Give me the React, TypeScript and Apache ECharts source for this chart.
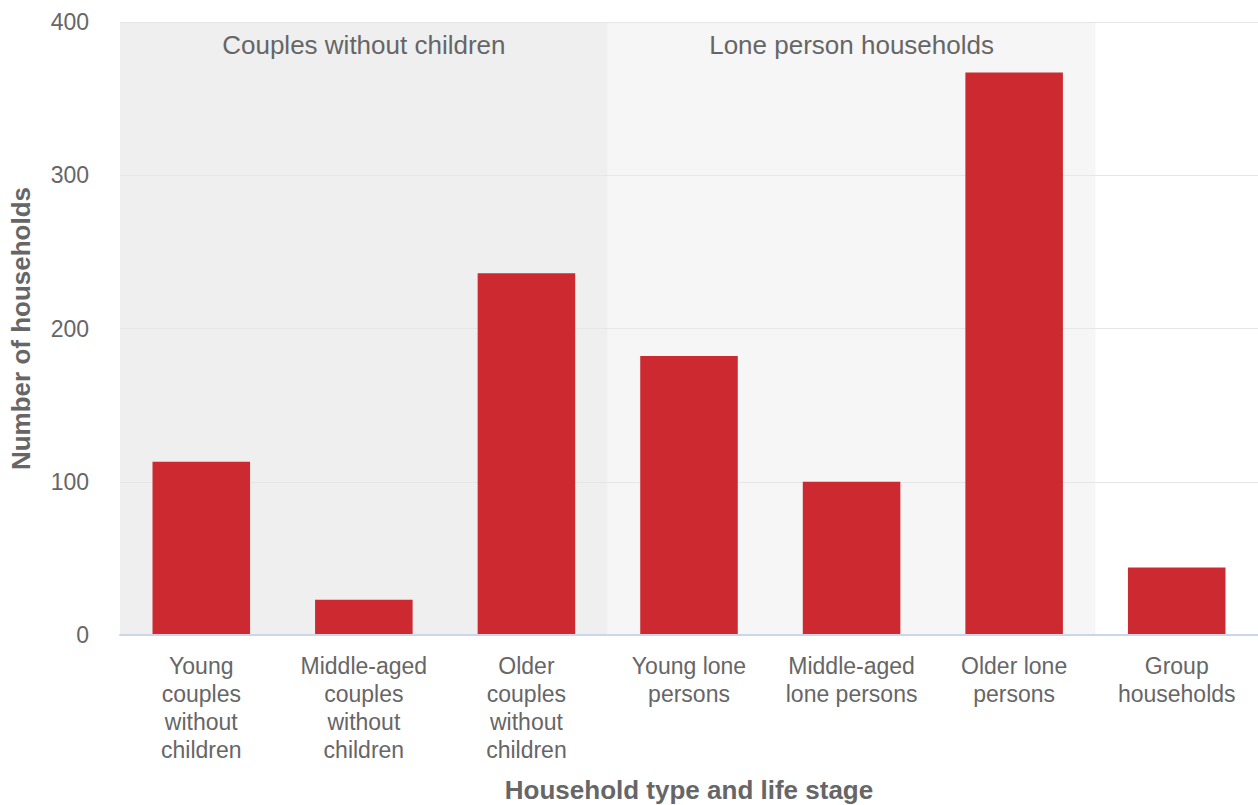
import React, { useEffect, useRef } from "react";
import * as echarts from "echarts";

const categories = [
  "Young\ncouples\nwithout\nchildren",
  "Middle-aged\ncouples\nwithout\nchildren",
  "Older\ncouples\nwithout\nchildren",
  "Young lone\npersons",
  "Middle-aged\nlone persons",
  "Older lone\npersons",
  "Group\nhouseholds",
];
const values = [113, 23, 236, 182, 100, 367, 44];
const bandNames = ["Couples without children", "Lone person households"];
const bandStarts = [0, 3];
const bandEnds = [3, 6];
const bandColors = ["#efefef", "#f6f6f6"];
const yTicks = { min: 0, max: 400, interval: 100 };

const FONT = "'Liberation Sans', Arial, Helvetica, sans-serif";

export default function App() {
  const ref = useRef<HTMLDivElement>(null);
  useEffect(() => {
    if (!ref.current) return;
    const chart = echarts.init(ref.current, undefined, { renderer: "svg" });
    chart.setOption({
      animation: false,
      textStyle: { fontFamily: FONT },
      grid: { left: 120, right: 0, top: 22, bottom: 170, containLabel: false, outerBoundsMode: "none" },
      xAxis: [
        {
          type: "category",
          data: categories,
          name: "Household type and life stage",
          nameLocation: "middle",
          nameGap: 142,
          nameTextStyle: { fontSize: 26, fontWeight: "bold", color: "#666666", fontFamily: FONT },
          axisLine: { lineStyle: { color: "#ccd6eb", width: 2 } },
          axisTick: { alignWithLabel: true, length: 10, lineStyle: { color: "#ccd6eb", width: 2 } },
          axisLabel: {
            interval: 0,
            fontSize: 23,
            lineHeight: 28,
            color: "#666666",
            margin: 17,
            fontFamily: FONT,
          },
          z: 5,
        },
        {
          type: "value",
          min: 0,
          max: 7,
          show: false,
        },
      ],
      yAxis: {
        type: "value",
        min: yTicks.min,
        max: yTicks.max,
        interval: yTicks.interval,
        name: "Number of households",
        nameLocation: "middle",
        nameGap: 86,
        nameTextStyle: { fontSize: 26, fontWeight: "bold", color: "#666666", fontFamily: FONT },
        axisLabel: { fontSize: 23, color: "#666666", margin: 31, fontFamily: FONT },
        splitLine: { lineStyle: { color: "#e6e6e6", width: 1 } },
        axisLine: { show: false },
        axisTick: { show: false },
        z: 2,
      },
      series: [
        {
          type: "line",
          xAxisIndex: 1,
          data: [],
          silent: true,
          z: -1,
          markArea: {
            silent: true,
            z: -1,
            data: bandNames.map((n, i) => [
              {
                name: n,
                xAxis: bandStarts[i],
                yAxis: yTicks.max,
                itemStyle: { color: bandColors[i] },
                label: {
                  show: true,
                  position: "insideTop",
                  distance: 10,
                  color: "#666666",
                  fontSize: 26,
                  fontFamily: FONT,
                },
              },
              { xAxis: bandEnds[i], yAxis: yTicks.min },
            ]),
          },
        },
        {
          type: "bar",
          data: values,
          barCategoryGap: "40%",
          itemStyle: { color: "#cc2a30" },
          z: 3,
        },
      ],
    });
    return () => chart.dispose();
  }, []);
  return (
    <div
      ref={ref}
      style={{ position: "fixed", left: 0, top: 0, width: 1258, height: 805, background: "#ffffff" }}
    />
  );
}
